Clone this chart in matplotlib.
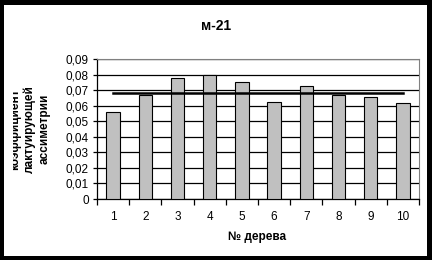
import matplotlib
matplotlib.use("Agg")
import matplotlib.pyplot as plt
from matplotlib.patches import Rectangle

# данные
derevo = [1, 2, 3, 4, 5, 6, 7, 8, 9, 10]
koef = [0.0559, 0.0666, 0.0776, 0.0795, 0.0750, 0.0621, 0.0724, 0.0666, 0.0654, 0.0615]
srednee = [0.0679] * 10
yticks = [0, 0.01, 0.02, 0.03, 0.04, 0.05, 0.06, 0.07, 0.08, 0.09]

plt.rcParams['font.family'] = ['Liberation Sans', 'DejaVu Sans']

W, H = 432, 260
fig = plt.figure(figsize=(W / 100, H / 100), dpi=100)
ax = fig.add_axes([97 / W, 1 - 199 / H, (419 - 97) / W, (199 - 59) / H])

ax.bar(derevo, koef, width=0.42, color='#c0c0c0', edgecolor='black', linewidth=0.8, zorder=3)
ax.plot(derevo, srednee, color='black', linewidth=1.8, zorder=4)

ax.set_xlim(0.5, 10.5)
ax.set_ylim(0, 0.09)
ax.set_yticks(yticks)
ax.set_yticklabels(['0' if v == 0 else ('%.2f' % v).replace('.', ',') for v in yticks], fontsize=8.5)
ax.yaxis.grid(True, color='black', linewidth=0.9, zorder=1)
ax.set_axisbelow(True)

ax.set_xticks([x + 0.5 for x in range(0, 11)])
ax.set_xticklabels([])
ax.set_xticks(derevo, minor=True)
ax.set_xticklabels([str(d) for d in derevo], minor=True, fontsize=8.5)
ax.tick_params(axis='x', which='minor', length=0, pad=9)
ax.tick_params(axis='x', which='major', length=4, width=0.9, direction='out')
ax.tick_params(axis='y', length=3, width=0.9, direction='out', pad=3)

ax.spines['left'].set_linewidth(0.9)
ax.spines['bottom'].set_linewidth(0.9)
ax.spines['top'].set_color('#808080')
ax.spines['right'].set_color('#808080')

fig.text(216 / W, 1 - 26 / H, 'м-21', ha='center', va='center', fontsize=10, fontweight='bold')
fig.text(257 / W, 1 - 237 / H, '№ дерева', ha='center', va='center', fontsize=8.5, fontweight='bold')

fig.text(30 / W, 1 - 129 / H, 'коэффициент\nлактуирующей\nассиметрии', rotation=90,
         ha='center', va='center', multialignment='center', fontsize=8.5,
         fontweight='bold', linespacing=1.3)

# подпись обрезана слева, как в оригинале
fig.patches.append(Rectangle((0, 0), 13 / W, 1, transform=fig.transFigure,
                             facecolor='white', edgecolor='none', zorder=9))

# чёрная рамка по краю
for r in [(0, 0, 4 / W, 1), (1 - 5 / W, 0, 5 / W, 1), (0, 0, 1, 4 / H), (0, 1 - 5 / H, 1, 5 / H)]:
    fig.patches.append(Rectangle((r[0], r[1]), r[2], r[3], transform=fig.transFigure,
                                 facecolor='black', edgecolor='none', zorder=10))

fig.savefig('out.png', dpi=100)
